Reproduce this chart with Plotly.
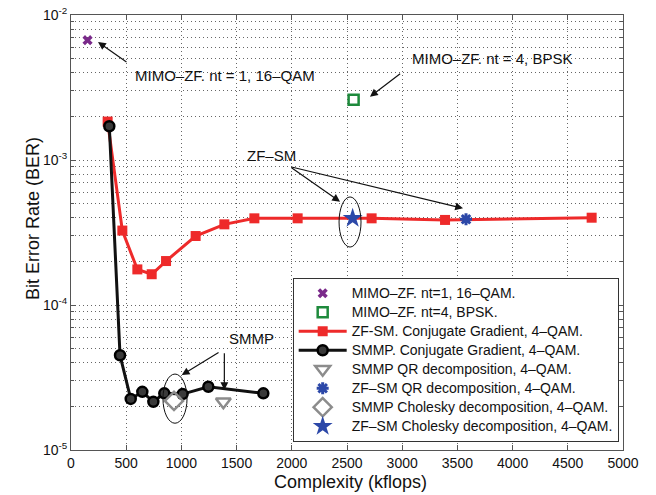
import plotly.graph_objects as go

# ---------------- data ----------------
mimo1_x = [150]
mimo1_y = [6.7e-3]
mimo4_x = [2560]
mimo4_y = [2.6e-3]

zfsm_cg_x = [332, 465, 601, 731, 861, 1129, 1389, 1661, 2053, 2723, 3388, 4716]
zfsm_cg_y = [1.84e-3, 3.26e-4, 1.76e-4, 1.63e-4, 2.01e-4, 2.99e-4, 3.6e-4, 3.96e-4, 3.96e-4, 3.96e-4, 3.86e-4, 4.0e-4]

smmp_cg_x = [347, 444, 541, 646, 746, 845, 1011, 1244, 1742]
smmp_cg_y = [1.71e-3, 4.5e-5, 2.25e-5, 2.52e-5, 2.15e-5, 2.46e-5, 2.43e-5, 2.73e-5, 2.46e-5]

smmp_qr_x = [1380]
smmp_qr_y = [2.15e-5]
zfsm_qr_x = [3578]
zfsm_qr_y = [3.9e-4]
smmp_chol_x = [933]
smmp_chol_y = [2.18e-5]
zfsm_chol_x = [2551]
zfsm_chol_y = [3.96e-4]

x_ticks = [0, 500, 1000, 1500, 2000, 2500, 3000, 3500, 4000, 4500, 5000]
y_ticks = [1e-5, 1e-4, 1e-3, 1e-2]
y_ticktext = ["10<sup>-5</sup>", "10<sup>-4</sup>", "10<sup>-3</sup>", "10<sup>-2</sup>"]
y_minor = [m * 10.0 ** e for e in (-5, -4, -3) for m in range(2, 10)]

legend_names = [
    "MIMO\u2013ZF. nt=1, 16\u2013QAM.",
    "MIMO\u2013ZF. nt=4, BPSK.",
    "ZF-SM. Conjugate Gradient, 4\u2013QAM.",
    "SMMP. Conjugate Gradient, 4\u2013QAM.",
    "SMMP QR decomposition, 4\u2013QAM.",
    "ZF\u2013SM QR decomposition, 4\u2013QAM.",
    "SMMP Cholesky decomposition, 4\u2013QAM.",
    "ZF\u2013SM Cholesky decomposition, 4\u2013QAM.",
]

FONT = "Liberation Sans, Arial, Helvetica, sans-serif"
RED = "#ee2a2a"
BLUE = "#2c48a8"
GREY = "#8c8c8c"
PURPLE = "#7a2a8a"
GRIDDASH = "1px,3px"


def nm(i):
    return '<span style="font-size:14px">' + legend_names[i] + "</span>"


fig = go.Figure()
fig.add_trace(go.Scatter(x=mimo1_x, y=mimo1_y, mode="markers", name=nm(0),
                         marker=dict(symbol="x", size=9, color=PURPLE)))
fig.add_trace(go.Scatter(x=mimo4_x, y=mimo4_y, mode="markers", name=nm(1),
                         marker=dict(symbol="square-open", size=10, color="#1e8a3c", line=dict(width=2.5))))
fig.add_trace(go.Scatter(x=zfsm_cg_x, y=zfsm_cg_y, mode="lines+markers", name=nm(2),
                         line=dict(color=RED, width=3),
                         marker=dict(symbol="square", size=10, color=RED)))
fig.add_trace(go.Scatter(x=smmp_cg_x, y=smmp_cg_y, mode="lines+markers", name=nm(3),
                         line=dict(color="#111111", width=3),
                         marker=dict(symbol="circle", size=10, color="#3a3a3a", line=dict(color="#000000", width=2.5))))
fig.add_trace(go.Scatter(x=smmp_qr_x, y=smmp_qr_y, mode="markers", name=nm(4),
                         marker=dict(symbol="triangle-down-open", size=13, color=GREY, line=dict(width=2.5))))
fig.add_trace(go.Scatter(x=zfsm_qr_x, y=zfsm_qr_y, mode="markers", name=nm(5),
                         marker=dict(symbol="asterisk-open", size=10, color=BLUE, line=dict(color=BLUE, width=3))))
fig.add_trace(go.Scatter(x=smmp_chol_x, y=smmp_chol_y, mode="markers", name=nm(6),
                         marker=dict(symbol="diamond-open", size=14, color=GREY, line=dict(width=2.5))))
fig.add_trace(go.Scatter(x=zfsm_chol_x, y=zfsm_chol_y, mode="markers", name=nm(7),
                         marker=dict(symbol="star", size=15, color=BLUE)))

# ellipses around the decomposition markers
fig.add_shape(type="circle", xref="x", yref="y", x0=2428, x1=2627, y0=2.51e-4, y1=5.56e-4,
              line=dict(color="#111111", width=1))
fig.add_shape(type="circle", xref="x", yref="y", x0=833, x1=1051, y0=1.53e-5, y1=3.34e-5,
              line=dict(color="#111111", width=1))

ann_font = dict(family=FONT, size=15, color="#111111")


def arrow(xh, yh, xt, yt):
    fig.add_annotation(x=xh, y=yh, ax=xt, ay=yt, xref="x", yref="y", axref="x", ayref="y",
                       text="", showarrow=True, arrowhead=2, arrowsize=1.3, arrowwidth=1.2,
                       arrowcolor="#111111")


arrow(245, -2.186, 516, -2.331)
arrow(2708, -2.563, 2995, -2.398)
arrow(2437, -3.288, 1984, -3.046)
arrow(3551, -3.333, 1984, -3.046)
arrow(1003, -4.483, 1350, -4.322)
arrow(1389, -4.586, 1389, -4.322)


def label(text, x, y):
    fig.add_annotation(x=x, y=y, xref="x", yref="y", text=text, showarrow=False,
                       xanchor="left", yanchor="middle", font=ann_font)


label("MIMO\u2013ZF. nt = 1, 16\u2013QAM", 558, -2.414)
label("MIMO\u2013ZF. nt = 4, BPSK", 3071, -2.303)
label("ZF\u2013SM", 1576, -2.966)
label("SMMP", 1410, -4.228)

# axis titles
fig.add_annotation(xref="paper", yref="paper", x=0, xshift=-38, y=0.531, text="Bit Error Rate (BER)",
                   textangle=-90, showarrow=False, xanchor="center", yanchor="middle",
                   font=dict(family=FONT, size=18, color="#111111"))
fig.add_annotation(xref="paper", yref="paper", x=0.507, y=0, yshift=-32, text="Complexity (kflops)",
                   showarrow=False, xanchor="center", yanchor="middle",
                   font=dict(family=FONT, size=18, color="#111111"))

grid = dict(showgrid=True, gridcolor="#666666", griddash=GRIDDASH, gridwidth=1)
fig.update_xaxes(range=[0, 5000], tickvals=x_ticks, ticks="inside", ticklen=5, tickcolor="#555555",
                 showline=True, linecolor="#555555", linewidth=1, mirror="allticks", zeroline=False,
                 tickfont=dict(family=FONT, size=14, color="#111111"), **grid)
fig.update_yaxes(type="log", range=[-5, -2], tickvals=y_ticks, ticktext=y_ticktext, ticks="inside",
                 ticklen=5, tickcolor="#555555", showline=True, linecolor="#555555", linewidth=1,
                 mirror="allticks", zeroline=False,
                 tickfont=dict(family=FONT, size=14, color="#111111"),
                 minor=dict(tickvals=y_minor, ticks="inside", ticklen=3, tickcolor="#555555",
                            showgrid=True, gridcolor="#666666", griddash=GRIDDASH, gridwidth=1),
                 **grid)

fig.update_layout(
    width=656, height=495,
    margin=dict(l=71, r=33, t=15, b=45, autoexpand=False),
    paper_bgcolor="white", plot_bgcolor="white",
    font=dict(family=FONT, size=14, color="#111111"),
    showlegend=True,
    legend=dict(x=0.4016, y=0.019, xanchor="left", yanchor="bottom",
                bgcolor="white", bordercolor="#333333", borderwidth=1,
                font=dict(family=FONT, size=12, color="#111111"),
                tracegroupgap=0, itemsizing="trace", itemwidth=48),
)

fig.write_html("out.html", config={"displayModeBar": False},
               post_script="document.body.style.margin='0';document.body.style.overflow='hidden';")
